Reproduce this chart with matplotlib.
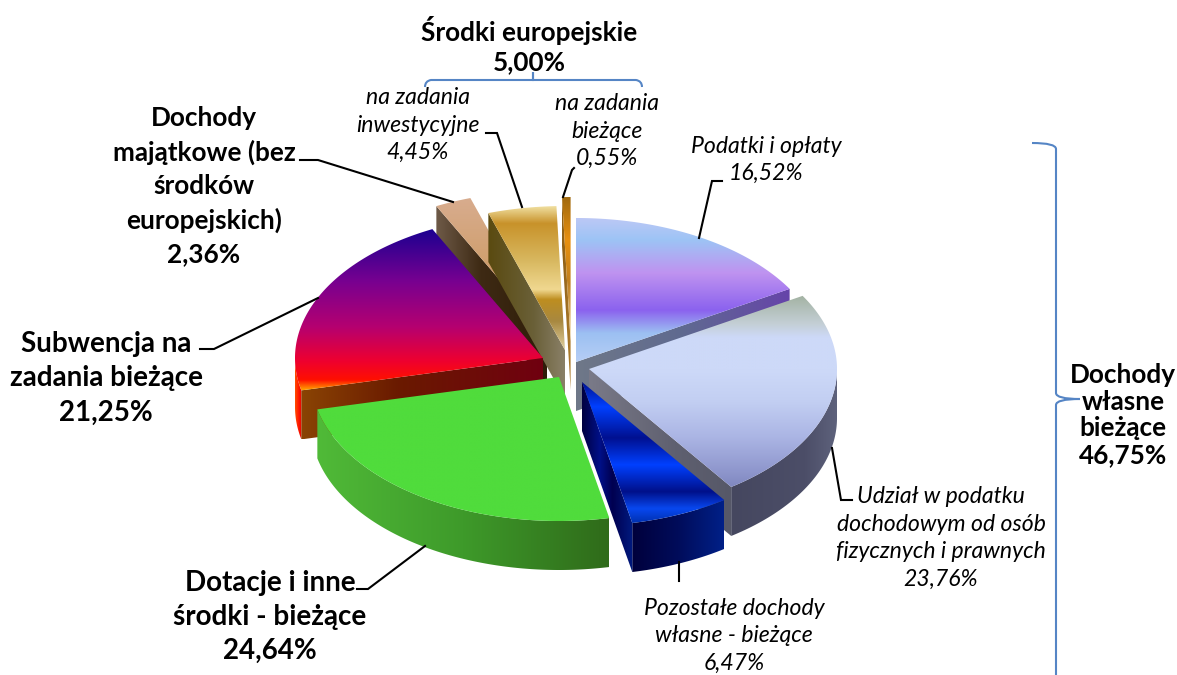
import numpy as np
import matplotlib
matplotlib.use("Agg")
import matplotlib.pyplot as plt
from matplotlib.colors import LinearSegmentedColormap
from matplotlib.patches import Polygon, PathPatch
from matplotlib.path import Path

plt.rcParams['font.family'] = ['Lato', 'DejaVu Sans']

names = ["Podatki i opłaty", "Udział w podatku", "Pozostałe dochody", "Dotacje i inne",
         "Subwencja", "Majątkowe", "Inwestycyjne", "Bieżące UE"]
shares = [16.52, 23.76, 6.47, 24.64, 21.25, 2.36, 4.45, 0.55]

bold_labels = ["Środki europejskie\n5,00%",
               "Dochody\nmajątkowe (bez\nśrodków\neuropejskich)\n2,36%",
               "Subwencja na\nzadania bieżące\n21,25%",
               "Dotacje i inne\nśrodki - bieżące\n24,64%",
               "Dochody\nwłasne\nbieżące\n46,75%"]
italic_labels = ["na zadania\ninwestycyjne\n4,45%",
                 "na zadania\nbieżące\n0,55%",
                 "Podatki i opłaty\n16,52%",
                 "Pozostałe dochody\nwłasne - bieżące\n6,47%",
                 "Udział w podatku\ndochodowym od osób\nfizycznych i prawnych\n23,76%"]

# layout, in pixels of the picture
bold_pos = [(529, 45), (204, 186), (106, 378), (270, 617), (1123, 415)]
bold_pitch = [1.28, 1.45, 1.4, 1.36, 1.14]
bold_size = [18.8, 18.8, 20, 20, 18.8]
italic_pos = [(418, 125), (607, 131), (766, 160), (734, 636), (941, 538)]
RX, RY, DEPTH = 248, 144, 49
# where the tip of each exploded slice lands
tips = [(576, 362), (589, 369), (582, 382), (559, 377),
        (543, 358), (547, 335), (565, 350), (570.6, 341)]
draw_order = [0, 5, 6, 7, 4, 3, 1, 2]

# gradient stops: top face (by y), outer wall (by x), cut face (by x)
top_stops = [
    [(0, "#BCC8F6"), (.15, "#9DC4F5"), (.38, "#BF93F0"), (.64, "#8B62EE"), (.80, "#9CC0F2"), (1, "#B6CEF5")],
    [(0, "#A3B2A2"), (.15, "#C4CFD6"), (.22, "#CDD9F8"), (.39, "#CDD9F8"), (.56, "#C2CEF2"), (.74, "#ABB5E4"), (.91, "#9098CE"), (1, "#8088C0")],
    [(0, "#00108C"), (.18, "#0040FF"), (.40, "#001090"), (.59, "#0040FF"), (.78, "#00108A"), (.90, "#0848F0"), (1, "#0030B0")],
    [(0, "#50DC3C"), (1, "#50DC3C")],
    [(0, "#1A0090"), (.33, "#780090"), (.61, "#B50070"), (.82, "#EE0030"), (.94, "#FF1000"), (1, "#FFA000")],
    [(0, "#D8AC8E"), (.45, "#D0A070"), (1, "#B0591C")],
    [(0, "#F0DFA0"), (.12, "#C8922A"), (.38, "#D8B860"), (.58, "#F0D890"), (.65, "#BE8E20"), (.80, "#A88840"), (1, "#E0D0A0")],
    [(0, "#A06A10"), (.3, "#E89010"), (.6, "#C08020"), (1, "#F0D8A0")],
]
wall_stops = [
    [(0, "#6A60A0"), (1, "#6A60A0")],
    [(0, "#45475F"), (.7, "#4C4E68"), (1, "#5E627C")],
    [(0, "#00003C"), (.5, "#000C5A"), (1, "#002088")],
    [(0, "#50BA38"), (.5, "#3E9A2A"), (1, "#2F6B1A")],
    [(0, "#FF5000"), (.5, "#FF1A00"), (1, "#E00000")],
    [(0, "#705C4A"), (1, "#705C4A")],
    [(0, "#5A4A10"), (1, "#5A4A10")],
    [(0, "#8A5A10"), (1, "#8A5A10")],
]
cut_stops = [
    [(0, "#6F7888"), (.5, "#5F6A90"), (1, "#6644AA")],
    [(0, "#7A7A88"), (.6, "#5F6070"), (1, "#565868")],
    [(0, "#000040"), (.35, "#001088"), (.6, "#000050"), (1, "#001A80")],
    [(0, "#3E9A2A"), (1, "#3E9A2A")],
    [(0, "#8A4404"), (.4, "#6A1A00"), (1, "#700010")],
    [(0, "#6E5A48"), (.4, "#3E2A14"), (1, "#2E1C08")],
    [(0, "#5A4A10"), (.6, "#6A6038"), (1, "#8A8068")],
    [(0, "#8A5A10"), (1, "#B08030")],
]

leaders = [
    [(722, 181), (712, 181), (699, 238)],
    [(832, 448), (841, 500), (852, 500)],
    [(679, 562), (679, 581)],
    [(425, 546), (368, 589), (357, 589)],
    [(318, 298), (214, 349), (200, 349)],
    [(300, 160), (318, 160), (453, 202)],
    [(486, 133), (497, 133), (522, 207)],
    [(574, 168), (572, 170), (563, 197)],
]

W, H = 1177, 675
fig = plt.figure(figsize=(W / 100, H / 100), dpi=100)
ax = fig.add_axes([0, 0, 1, 1])
ax.set_xlim(0, W)
ax.set_ylim(H, 0)
ax.axis("off")


def arc(tip, a0, a1):
    t = np.radians(np.linspace(a0, a1, max(int(a1 - a0) * 2, 2)))
    return np.column_stack([tip[0] + RX * np.sin(t), tip[1] - RY * np.cos(t)])


def grad_fill(pts, stops, vertical, z):
    cm = LinearSegmentedColormap.from_list("g", stops)
    ramp = np.linspace(0, 1, 256)
    img = ramp[:, None] if vertical else ramp[None, :]
    x0, y0 = pts.min(axis=0)
    x1, y1 = pts.max(axis=0)
    im = ax.imshow(img, cmap=cm, vmin=0, vmax=1, extent=(x0, x1, y1, y0), origin="upper",
                   aspect="auto", interpolation="bilinear", zorder=z)
    im.set_clip_path(Polygon(pts, closed=True, transform=ax.transData))


angles = np.concatenate([[0], np.cumsum(shares)]) / sum(shares) * 360
down = np.array([0, DEPTH])

z = 1
for i in draw_order:
    tip, a0, a1 = tips[i], angles[i], angles[i + 1]
    rim = arc(tip, a0, a1)
    centre = np.array(tip, dtype=float)
    # outer wall, only the front half of the rim shows
    lo, hi = max(a0, 90), min(a1, 270)
    if hi > lo:
        front = arc(tip, lo, hi)
        grad_fill(np.vstack([front, (front + down)[::-1]]), wall_stops[i], False, z)
        z += 1
    # cut faces
    for edge, shown in ((a0, 180 < a0 < 360), (a1, 0 < a1 < 180)):
        if shown:
            p = arc(tip, edge, edge + 1)[0]
            grad_fill(np.array([centre, p, p + down, centre + down]), cut_stops[i], False, z)
            z += 1
    grad_fill(np.vstack([centre, rim]), top_stops[i], True, z)
    z += 1

for pts in leaders:
    xs, ys = zip(*pts)
    ax.plot(xs, ys, color="black", lw=1.5, zorder=z, solid_joinstyle="miter")

blue = "#5585C5"
top_brace = Path([(425, 87), (425, 81), (431, 80), (533, 80), (533, 72), (533, 80),
                  (636, 80), (642, 81), (642, 87)],
                 [Path.MOVETO, Path.CURVE3, Path.CURVE3, Path.LINETO, Path.LINETO, Path.LINETO,
                  Path.LINETO, Path.CURVE3, Path.CURVE3])
right_brace = Path([(1032, 143), (1056, 143), (1056, 149), (1056, 393), (1056, 399), (1080, 399),
                    (1056, 399), (1056, 405), (1056, 675)],
                   [Path.MOVETO, Path.CURVE3, Path.CURVE3, Path.LINETO, Path.CURVE3, Path.CURVE3,
                    Path.CURVE3, Path.CURVE3, Path.LINETO])
for br in (top_brace, right_brace):
    ax.add_patch(PathPatch(br, fc="none", ec=blue, lw=1.5, zorder=z))

for lab, (x, y), pitch, size in zip(bold_labels, bold_pos, bold_pitch, bold_size):
    ax.text(x, y, lab, ha="center", va="center", fontsize=size, fontweight="bold",
            linespacing=pitch, color="black", zorder=z + 1)
for lab, (x, y) in zip(italic_labels, italic_pos):
    ax.text(x, y, lab, ha="center", va="center", fontsize=16.6, style="italic",
            linespacing=1.39, color="black", zorder=z + 1)

fig.savefig("out.png", dpi=100, facecolor="white")
